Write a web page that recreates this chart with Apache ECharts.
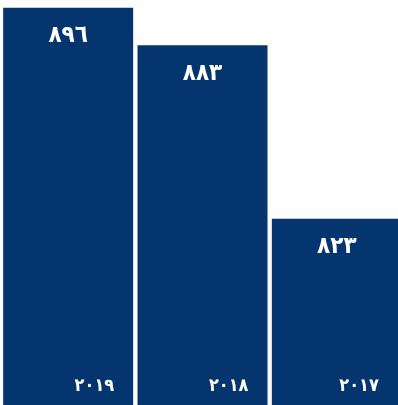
<!DOCTYPE html>
<html>
<head>
<meta charset="utf-8">
<script src="https://cdn.jsdelivr.net/npm/echarts@6/dist/echarts.min.js"></script>
<style>
html,body{margin:0;padding:0;background:#fff;}
#c{width:398px;height:405px;}
</style>
</head>
<body>
<div id="c"></div>
<script>
var years = ['٢٠١٩', '٢٠١٨', '٢٠١٧'];
var values = [896, 883, 823];
var valueLabels = ['٨٩٦', '٨٨٣', '٨٢٣'];

var yearData = values.map(function (v, i) {
  var item = {value: v};
  if (i === values.length - 1) {
    item.label = {offset: [-23, -10]};
  }
  return item;
});

var chart = echarts.init(document.getElementById('c'));
chart.setOption({
  animation: false,
  grid: {left: 1, right: -6, top: 0, bottom: 0, outerBoundsMode: 'none', containLabel: false},
  xAxis: {
    type: 'category',
    data: years,
    show: false
  },
  yAxis: {
    type: 'value',
    min: 758.5,
    max: 898.7,
    show: false
  },
  series: [
    {
      type: 'bar',
      data: values,
      barWidth: 130,
      itemStyle: {color: '#04356f'},
      label: {
        show: true,
        position: 'insideTop',
        distance: 16,
        color: '#ffffff',
        fontFamily: 'DejaVu Sans Condensed',
        fontWeight: 'bold',
        fontSize: 24,
        formatter: function (p) { return valueLabels[p.dataIndex]; }
      }
    },
    {
      type: 'bar',
      data: yearData,
      barWidth: 130,
      barGap: '-100%',
      itemStyle: {color: 'rgba(0,0,0,0)'},
      label: {
        show: true,
        position: 'insideBottomRight',
        distance: 0,
        offset: [-19, -10],
        color: '#ffffff',
        fontFamily: 'DejaVu Sans Condensed',
        fontWeight: 'bold',
        fontSize: 18,
        formatter: function (p) { return years[p.dataIndex]; }
      }
    }
  ]
});
</script>
</body>
</html>
